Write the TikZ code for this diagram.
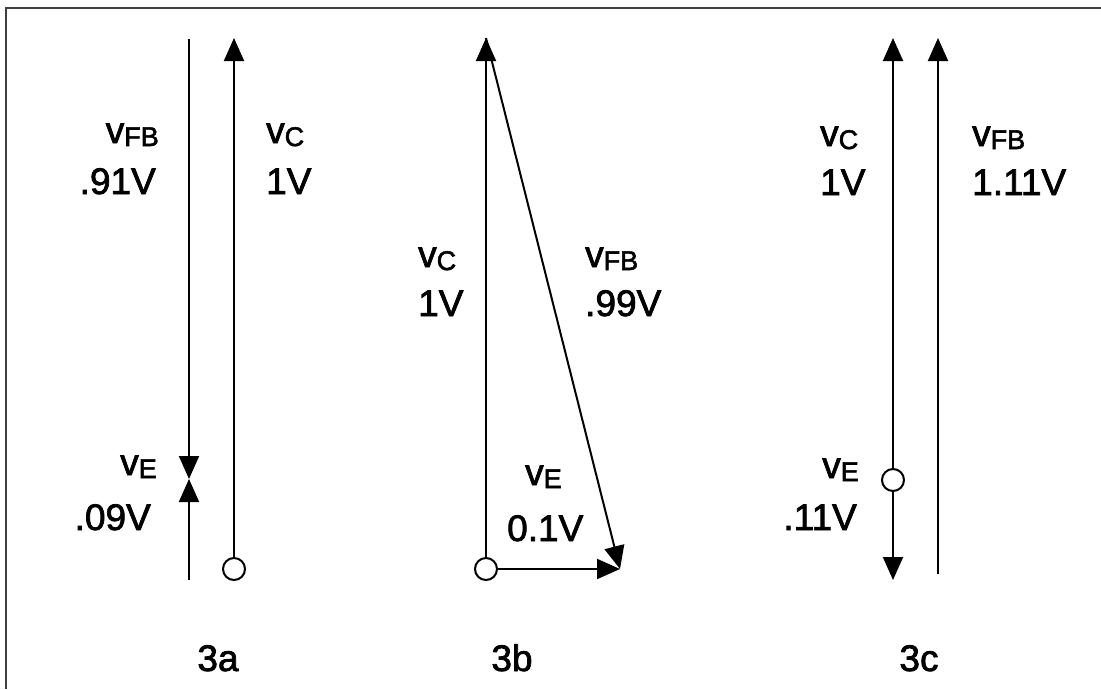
\documentclass[tikz,border=0pt]{standalone}
\usepackage{fontspec}
\setmainfont{Liberation Sans}
\newfontfamily\lblfont[FakeBold=2]{Liberation Sans}
\usetikzlibrary{arrows.meta}
\newcommand\vsub[1]{v\raisebox{-3pt}{\fontsize{27}{27}\selectfont #1}}
\begin{document}
\begin{tikzpicture}[x=1pt,y=-1pt,
  vec/.style={line width=2pt,-{Triangle[length=23pt,width=20pt]}},
  plain/.style={line width=2pt},
  dot/.style={circle,draw,line width=2pt,fill=white,minimum size=22pt,inner sep=0pt},
  lab/.style={inner sep=0pt,font=\lblfont\fontsize{37}{40}\selectfont}]
\useasboundingbox (0,0) rectangle (1101,689);
\draw[line width=2pt,black!75] (6,689) -- (6,8) -- (1101,8);
% ---- 3a
\coordinate (a1top) at (189,39);
\coordinate (a1mid) at (189,479);
\coordinate (a1bot) at (189,580);
\draw[vec] (a1top) -- (a1mid);
\draw[vec] (a1bot) -- (a1mid);
\node[dot] (a2o) at (234,569) {};
\coordinate (a2top) at (234,38);
\draw[vec] (a2o) -- (a2top);
\node[lab,anchor=base east] (aFB) at (159,143) {\vsub{FB}};
\node[lab,anchor=base east] (aFBv) at (156,194) {.91V};
\node[lab,anchor=base west] (aC) at (266,143) {\vsub{C}};
\node[lab,anchor=base west] (aCv) at (266,194) {1V};
\node[lab,anchor=base east] (aE) at (157,475) {\vsub{E}};
\node[lab,anchor=base east] (aEv) at (151,530) {.09V};
\node[lab,anchor=base] (la) at (218,671) {3a};
% ---- 3b
\node[dot] (bo) at (486,569) {};
\coordinate (btop) at (486,38);
\coordinate (btip) at (620,569);
\draw[vec] (bo) -- (btop);
\draw[vec] (btop) -- (btip);
\draw[vec] (bo) -- (btip);
\node[lab,anchor=base west] (bC) at (418,267) {\vsub{C}};
\node[lab,anchor=base west] (bCv) at (418,316) {1V};
\node[lab,anchor=base west] (bFB) at (585,267) {\vsub{FB}};
\node[lab,anchor=base west] (bFBv) at (585,316) {.99V};
\node[lab,anchor=base west] (bE) at (525,485) {\vsub{E}};
\node[lab,anchor=base west] (bEv) at (507,541) {0.1V};
\node[lab,anchor=base] (lb) at (512,671) {3b};
% ---- 3c
\node[dot] (co) at (893,480) {};
\coordinate (ctop) at (893,38);
\coordinate (cbot) at (893,580);
\draw[vec] (co) -- (ctop);
\draw[vec] (co) -- (cbot);
\coordinate (c2bot) at (938,574);
\coordinate (c2top) at (938,38);
\draw[vec] (c2bot) -- (c2top);
\node[lab,anchor=base west] (cC) at (820,146) {\vsub{C}};
\node[lab,anchor=base west] (cCv) at (820,195) {1V};
\node[lab,anchor=base west] (cFB) at (972,146) {\vsub{FB}};
\node[lab,anchor=base west] (cFBv) at (972,195) {1.11V};
\node[lab,anchor=base east] (cE) at (859,478) {\vsub{E}};
\node[lab,anchor=base east] (cEv) at (857,530) {.11V};
\node[lab,anchor=base] (lc) at (919,671) {3c};
\end{tikzpicture}
\end{document}
